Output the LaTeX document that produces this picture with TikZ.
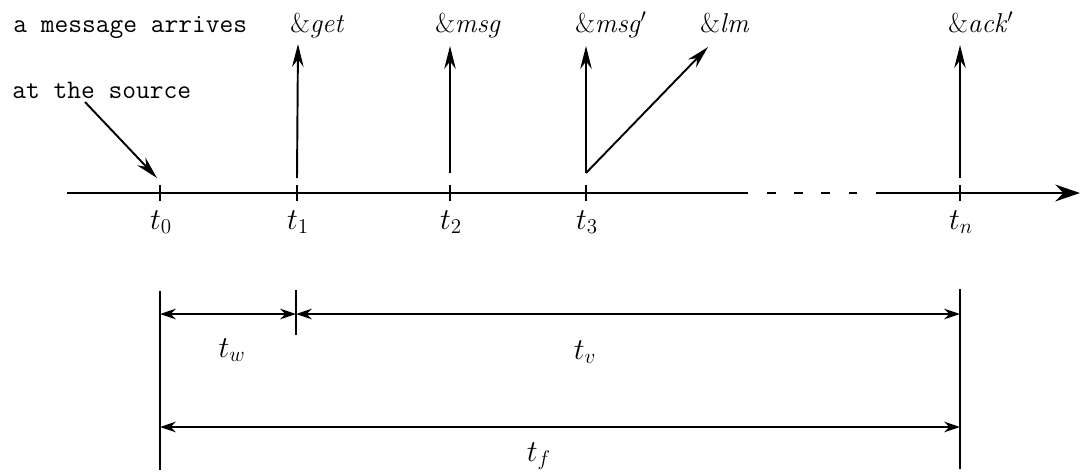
\documentclass[tikz,border=0pt]{standalone}
\usetikzlibrary{arrows.meta}
\begin{document}
\begin{tikzpicture}[x=0.02cm,y=-0.02cm,
  lbl/.style={inner sep=0pt,font=\fontsize{15.5}{18}\selectfont,anchor=base west},
  tlbl/.style={inner sep=0pt,font=\fontsize{18}{22}\selectfont},
  txt/.style={inner sep=0pt,font=\fontsize{15.2}{18}\selectfont\ttfamily,anchor=base west},
  arr/.style={line width=1.1pt,-{Stealth[length=13pt,width=6.5pt]}},
  axis/.style={line width=1.7pt},
  dim/.style={line width=1.1pt,{Stealth[length=9pt,width=6pt]}-{Stealth[length=9pt,width=6pt]}},
  tick/.style={line width=1pt}]
\useasboundingbox (0,0) rectangle (1082,474);
% axis
\coordinate (A0) at (67,193);
\coordinate (A1) at (748,193);
\coordinate (D0) at (767,193);
\coordinate (A2) at (877,193);
\coordinate (A3) at (1080,193);
\draw[axis] (A0) -- (A1);
\draw[axis,dash pattern=on 5pt off 10.5pt] (D0) -- (A2);
\draw[axis,-{Stealth[length=14pt,width=9.5pt]}] (A2) -- (A3);
% ticks
\foreach \n/\x in {0/160,1/297,2/450,3/586,n/960}{
  \coordinate (T\n) at (\x,193);
  \draw[tick] (\x,185) -- (\x,201);
}
% texts above
\node[txt] (msgA) at (13,32) {a message arrives};
\node[txt] (msgB) at (12,98) {at the source};
\node[lbl] (get) at (290,32) {\&\textit{get}};
\node[lbl] (msg) at (435,32) {\&\textit{msg}};
\node[lbl] (msgp) at (575,32) {\&\textit{msg}$'$};
\node[lbl] (lm) at (700,32) {\&\textit{lm}};
\node[lbl] (ack) at (948,32) {\&\textit{ack}$'$};
% vertical arrows
\coordinate (U1) at (298,44);
\coordinate (U2) at (450,46);
\coordinate (U3) at (586,46);
\coordinate (UL) at (708,47);
\coordinate (Un) at (960,45);
\coordinate (S1) at (297,178);
\coordinate (S2) at (450,173);
\coordinate (S3) at (586,173);
\coordinate (Sn) at (960,178);
\draw[arr] (S1) -- (U1);
\draw[arr] (S2) -- (U2);
\draw[arr] (S3) -- (U3);
\draw[arr] (S3) -- (UL);
\draw[arr] (Sn) -- (Un);
\coordinate (src) at (85,102);
\coordinate (srcend) at (157,178);
\draw[arr] (src) -- (srcend);
% t labels
\node[tlbl] (l0) at (161,222) {$t_0$};
\node[tlbl] (l1) at (298,222) {$t_1$};
\node[tlbl] (l2) at (451,222) {$t_2$};
\node[tlbl] (l3) at (587,222) {$t_3$};
\node[tlbl] (ln) at (961,222) {$t_n$};
% bottom dimensions
\coordinate (B0t) at (160,291);
\coordinate (B0b) at (160,470);
\coordinate (Bnt) at (960,289);
\coordinate (Bnb) at (960,469);
\draw[line width=1.1pt] (B0t) -- (B0b);
\draw[line width=1.1pt] (Bnt) -- (Bnb);
\draw[tick] (296,290) -- (296,335);
\coordinate (W0) at (160,314);
\coordinate (W1) at (296,314);
\coordinate (Wn) at (960,314);
\draw[dim] (W0) -- (W1);
\draw[dim] (W1) -- (Wn);
\coordinate (F0) at (160,427);
\coordinate (Fn) at (960,427);
\draw[dim] (F0) -- (Fn);
\node[tlbl] (tw) at (232,350) {$t_w$};
\node[tlbl] (tv) at (585,352) {$t_v$};
\node[tlbl] (tf) at (539,456) {$t_f$};
\end{tikzpicture}
\end{document}
